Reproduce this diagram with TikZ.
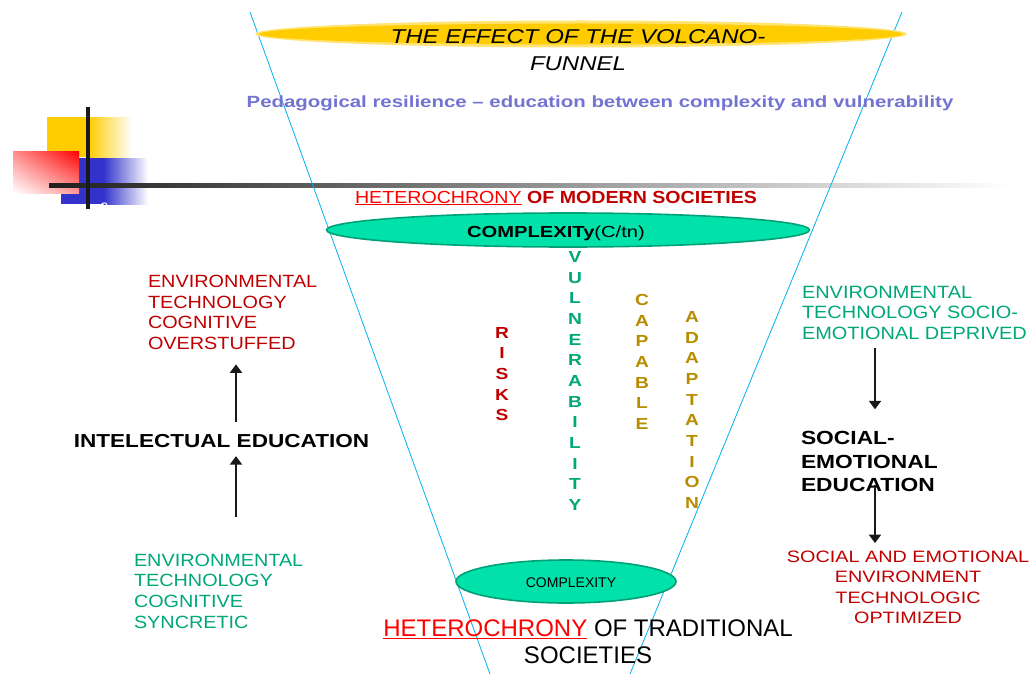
\documentclass[tikz,border=0pt]{standalone}
\usepackage{fontspec}
\setmainfont{Liberation Sans}
\newfontfamily\wfont[FakeStretch=1.12]{Liberation Sans}
\newfontfamily\wbfont[FakeStretch=1.2]{Liberation Sans}
\newfontfamily\pfont[FakeStretch=1.26]{Liberation Sans}
\usetikzlibrary{shapes.geometric,arrows.meta,shadings}
\definecolor{dred}{RGB}{192,0,0}
\definecolor{tgreen}{RGB}{0,168,120}
\definecolor{efill}{RGB}{0,226,170}
\definecolor{edraw}{RGB}{0,160,120}
\definecolor{gold}{RGB}{184,140,0}
\definecolor{lav}{RGB}{115,115,210}
\definecolor{ycol}{RGB}{255,204,0}
\definecolor{bcol}{RGB}{51,51,204}
\definecolor{funnel}{RGB}{0,176,240}
\definecolor{hred}{RGB}{255,0,0}
\tikzset{
  txt/.style={inner sep=0pt, outer sep=0pt},
  arr/.style={line width=2.9pt, black!90, -{Triangle[length=8.5pt,width=12pt]}},
  col/.style={txt, align=center, font=\wbfont\bfseries\fontsize{16}{20.65}\selectfont},
}
\begin{document}
\begin{tikzpicture}[x=1pt,y=-1pt]
\useasboundingbox (0,0) rectangle (1032,674);
\fill[white] (0,0) rectangle (1032,674);
% decoration
\fill[ycol] (47,117) rectangle (89,157);
\shade[left color=ycol,right color=white] (88.5,117) rectangle (132,157);
\fill[bcol] (61,158) rectangle (104,204);
\shade[left color=bcol,right color=white] (103.5,158) rectangle (148,204);
\begin{scope}
\clip (61,158) rectangle (148,204);
\node[txt, white, font=\fontsize{16}{16}\selectfont] (cc) at (104,207) {c};
\end{scope}
\shade[upper right=red, upper left=red!45, lower left=white, lower right=red!40] (13,151) rectangle (79,193);
\shade[left color=black!88, right color=white] (49,183) rectangle (1010,187.5);
\fill[black!90] (86,107) rectangle (90,209);
% funnel
\draw[funnel, line width=0.8pt] (250,12) -- (490,674);
\draw[funnel, line width=0.8pt] (902,12) -- (630,674);
% title
\node[ellipse, fill=ycol!55, minimum width=652, minimum height=27, inner sep=0] (yel0) at (581,34) {};
\node[ellipse, fill=ycol, minimum width=644, minimum height=21, inner sep=0] (yel) at (581,34) {};
\node[txt, align=center, font=\wbfont\itshape\fontsize{20}{27}\selectfont] (title) at (578,50) {THE EFFECT OF THE VOLCANO-\\FUNNEL};
\node[txt, lav, font=\pfont\bfseries\fontsize{16.2}{18}\selectfont] (ped) at (600,103) {Pedagogical resilience – education between complexity and vulnerability};
% modern
\node[txt, font=\wfont\fontsize{17.5}{20}\selectfont] (modern) at (556,198) {\textcolor{hred}{\underline{HETEROCHRONY}} \textcolor{dred}{\bfseries OF MODERN SOCIETIES}};
\node[ellipse, draw=edraw, line width=1.6pt, fill=efill, minimum width=483, minimum height=34, inner sep=0] (cx1) at (568,230) {};
\node[txt, font=\pfont\fontsize{16}{18}\selectfont] (cx1t) at (556,233) {\textbf{COMPLEXITy}(C/tn)};
% columns
\node[col, dred] (risks) at (502,374) {R\\I\\S\\K\\S};
\node[col, tgreen] (vuln) at (575,381) {V\\U\\L\\N\\E\\R\\A\\B\\I\\L\\I\\T\\Y};
\node[col, gold] (capable) at (642,362) {C\\A\\P\\A\\B\\L\\E};
\node[col, gold] (adapt) at (692,410) {A\\D\\A\\P\\T\\A\\T\\I\\O\\N};
% bottom
\node[ellipse, draw=edraw, line width=1.6pt, fill=efill, minimum width=220, minimum height=43, inner sep=0] (cx2) at (566,581.5) {};
\node[txt, font=\fontsize{14}{16}\selectfont] (cx2t) at (571,583) {COMPLEXITY};
\node[txt, align=center, font=\fontsize{24}{27}\selectfont] (trad) at (588,642) {\textcolor{hred}{\underline{HETEROCHRONY}} OF TRADITIONAL\\SOCIETIES};
% left
\node[txt, dred, align=left, anchor=west, font=\wfont\fontsize{17.7}{20.4}\selectfont] (over) at (148,312.5) {ENVIRONMENTAL\\TECHNOLOGY\\COGNITIVE\\OVERSTUFFED};
\node[txt, font=\wbfont\bfseries\fontsize{18.8}{20}\selectfont] (intel) at (221.5,441) {INTELECTUAL EDUCATION};
\node[txt, tgreen, align=left, anchor=west, font=\wfont\fontsize{17.7}{20.6}\selectfont] (sync) at (134,591) {ENVIRONMENTAL\\TECHNOLOGY\\COGNITIVE\\SYNCRETIC};
\coordinate (ax) at (236,0);
\draw[arr, shorten <=37pt, shorten >=8.5pt] (sync.north -| ax) -- (intel.south -| ax);
\draw[arr, shorten <=12.5pt, shorten >=15pt] (intel.north -| ax) -- (over.south -| ax);
% right
\node[txt, tgreen, align=left, anchor=west, font=\wfont\fontsize{17.8}{20.5}\selectfont] (depr) at (802,312.5) {ENVIRONMENTAL\\TECHNOLOGY SOCIO-\\EMOTIONAL DEPRIVED};
\node[txt, align=left, anchor=west, font=\wbfont\bfseries\fontsize{19}{23.5}\selectfont] (socemo) at (801,461.5) {SOCIAL-\\EMOTIONAL\\EDUCATION};
\node[txt, dred, align=center, font=\wbfont\fontsize{16.5}{20.4}\selectfont] (opt) at (908,587.5) {SOCIAL AND EMOTIONAL\\ENVIRONMENT\\TECHNOLOGIC\\OPTIMIZED};
\coordinate (bx) at (875,0);
\draw[arr, shorten <=9pt, shorten >=22pt] (depr.south -| bx) -- (socemo.north -| bx);
\draw[arr, shorten <=-7pt, shorten >=8pt] (socemo.south -| bx) -- (opt.north -| bx);
\end{tikzpicture}
\end{document}
